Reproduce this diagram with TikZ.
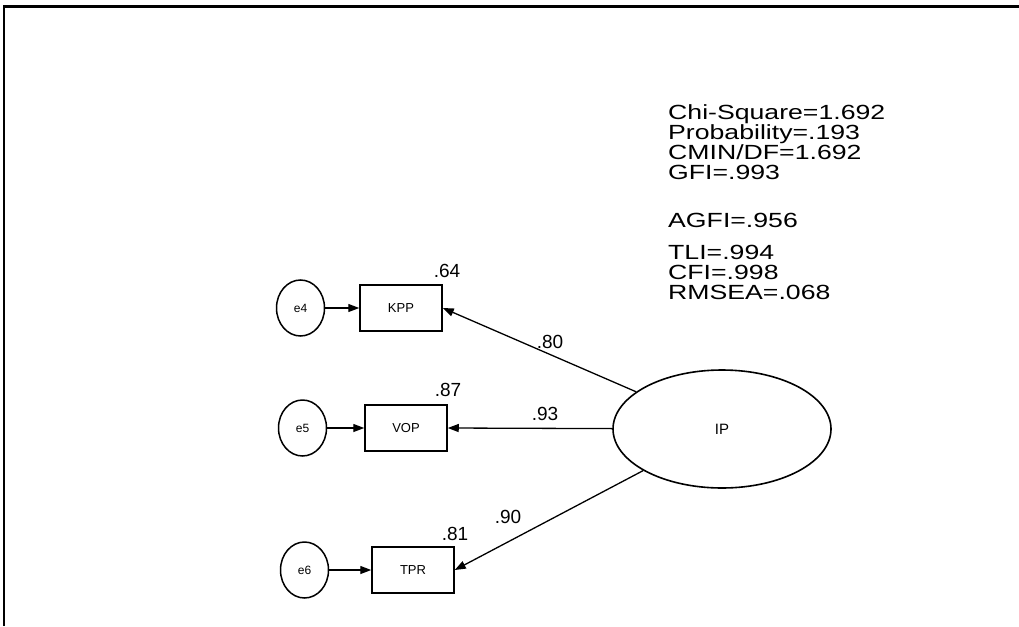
\documentclass[tikz,border=0pt]{standalone}
\usepackage{fontspec}
\setmainfont{Liberation Sans}
\newfontfamily\statfont{Liberation Sans}[FakeStretch=1.3]
\usetikzlibrary{positioning,arrows.meta,shapes.geometric}
\tikzset{
  obs/.style ={rectangle, draw, line width=1.5pt, minimum width=82pt, minimum height=46pt,
               inner sep=0pt, font=\fontsize{13}{13}\selectfont},
  err/.style ={ellipse, draw, line width=1.5pt, minimum width=48pt, minimum height=56pt,
               inner sep=0pt, font=\fontsize{12}{12}\selectfont},
  lat/.style ={ellipse, draw, line width=1.6pt, minimum width=218pt, minimum height=118pt,
               inner sep=0pt, font=\fontsize{15}{15}\selectfont},
  arr/.style ={-{Triangle[length=11pt,width=8pt]}, line width=1.3pt},
  num/.style ={font=\fontsize{19}{19}\selectfont, inner sep=0pt},
  frm/.style ={line width=2.5pt},
}

\begin{document}
\begin{tikzpicture}[x=1pt,y=-1pt]
  \useasboundingbox (0,0) rectangle (1019,626);
  % frame (cut off at right and bottom)
  \draw[frm] (4,626) -- (4,6.5) -- (1019,6.5);

  % indicators and errors
  \node[obs] (kpp) at (401,308) {KPP};
  \node[obs] (vop) at (406,428) {VOP};
  \node[obs] (tpr) at (413,570) {TPR};
  \node[err, left=34pt of kpp] (e4) {e4};
  \node[err, left=37pt of vop] (e5) {e5};
  \node[err, left=42pt of tpr] (e6) {e6};
  \node[lat] (ip) at (722,429) {IP};

  \draw[arr] (e4) -- (kpp);
  \draw[arr] (e5) -- (vop);
  \draw[arr] (e6) -- (tpr);
  \draw[arr] (ip) -- (kpp.east);
  \draw[arr] (ip) -- (vop.east);
  \draw[arr] (ip) -- (tpr.east);

  % squared multiple correlations
  \node[num] (r2kpp) at (447,271) {.64};
  \node[num] (r2vop) at (448,390) {.87};
  \node[num] (r2tpr) at (455,534) {.81};
  % loadings
  \node[num] (wkpp) at (550,342) {.80};
  \node[num] (wvop) at (545,414) {.93};
  \node[num] (wtpr) at (508,517) {.90};

  % fit indices
  \node[anchor=north west, align=left, inner sep=0pt,
        font=\statfont\fontsize{20.5}{20}\selectfont] (fitidx) at (668,104)
        {Chi-Square=1.692\\Probability=.193\\CMIN/DF=1.692\\GFI=.993\\[28pt]AGFI=.956\\[12pt]TLI=.994\\CFI=.998\\RMSEA=.068};
\end{tikzpicture}
\end{document}
